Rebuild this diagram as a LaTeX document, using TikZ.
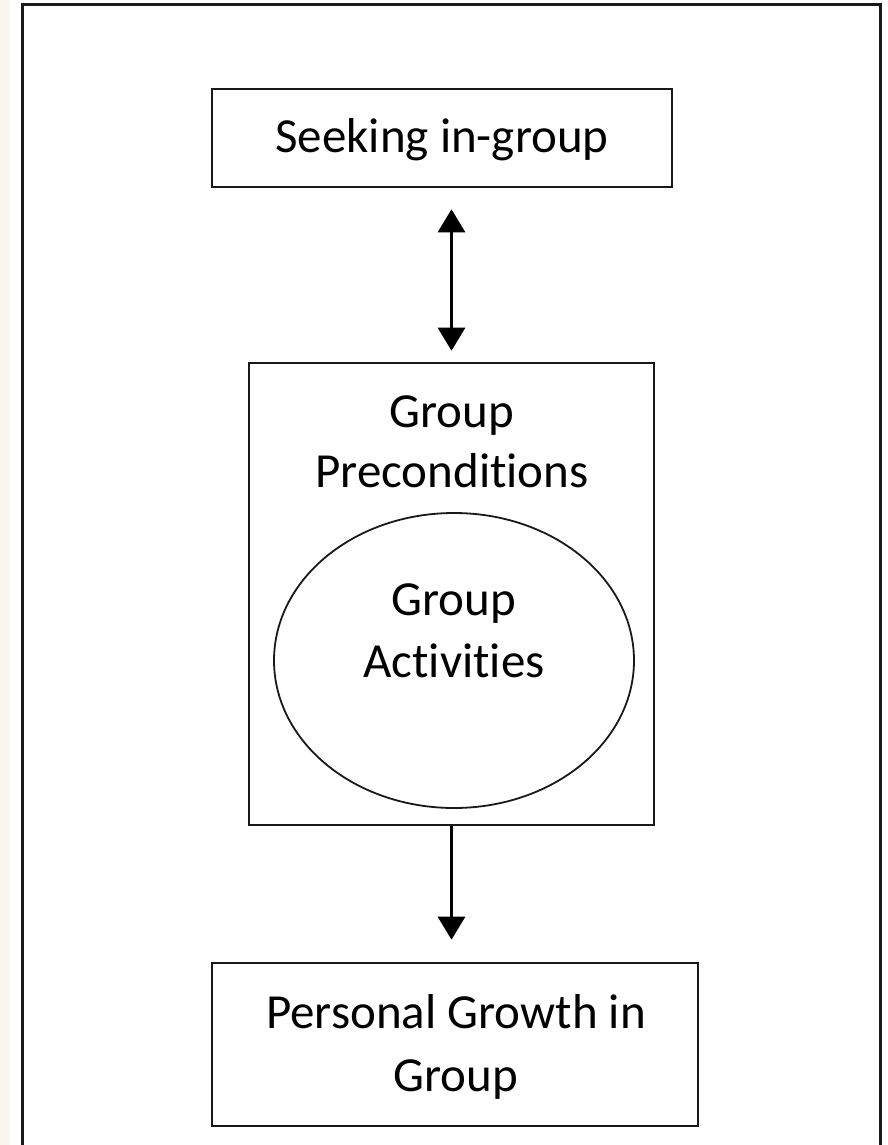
\documentclass[tikz,border=0pt]{standalone}
\usepackage{fontspec}
\setmainfont[Ligatures=NoCommon]{Carlito}
\usetikzlibrary{arrows.meta,shapes.geometric}
\definecolor{bgstrip}{RGB}{249,245,239}
\definecolor{linecol}{RGB}{25,25,25}
\begin{document}
\begin{tikzpicture}[x=1pt,y=-1pt,
  boxnode/.style={draw=linecol,line width=2.6pt,rectangle,inner sep=0pt},
  ovalnode/.style={draw=linecol,line width=1.8pt,ellipse,inner sep=0pt},
  label48/.style={font=\fontsize{49}{62}\selectfont,align=center,inner sep=0pt,text=black},
  conn/.style={draw=black,line width=3pt},
  tipstyle/.style={-{Triangle[width=27pt,length=23pt]}}
]
\useasboundingbox (0,0) rectangle (888,1145);
\fill[white] (0,0) rectangle (888,1145);
\fill[bgstrip] (0,0) rectangle (10,1145);
% outer frame
\draw[draw=linecol,line width=3pt] (22,1150) -- (22,5) -- (880,5) -- (880,1150);

\node[boxnode,minimum width=460pt,minimum height=98pt] (box1) at (442,138) {};
\node[label48] (t1) at (442,140) {Seeking in-group};

\node[boxnode,minimum width=405pt,minimum height=462pt] (box2) at (451.5,594) {};
\node[label48,font=\fontsize{49}{60}\selectfont] (t2) at (452,442) {Group\\Preconditions};

\node[ovalnode,minimum width=360pt,minimum height=295pt] (oval) at (454,660.5) {};
\node[label48,font=\fontsize{49}{62}\selectfont] (t3) at (454,631) {Group\\Activities};

\node[boxnode,minimum width=486pt,minimum height=163pt] (box3) at (455,1044.5) {};
\node[label48,font=\fontsize{49}{63}\selectfont] (t4) at (456,1047) {Personal Growth in\\Group};

\draw[conn,{Triangle[width=27pt,length=23pt]}-{Triangle[width=27pt,length=23pt]},shorten <=21pt,shorten >=11pt]
  (box2.north |- box1.south) -- (box2.north);
\draw[conn,tipstyle,shorten >=22pt] (box2.south) -- (box2.south |- box3.north);
\end{tikzpicture}
\end{document}
